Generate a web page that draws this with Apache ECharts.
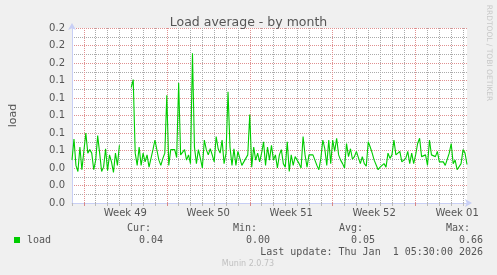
<!DOCTYPE html>
<html>
<head>
<meta charset="utf-8">
<script src="https://cdn.jsdelivr.net/npm/echarts@6.0.0/dist/echarts.min.js"></script>
<style>
html,body{margin:0;padding:0;background:#f0f0f0;}
#chart{width:497px;height:275px;}
</style>
</head>
<body>
<div id="chart"></div>
<script>
const slotStartUTC = Date.UTC(2025, 10, 30, 0, 0);
const slotHours = 4;
const loadValues = [
  0.049,0.073,0.043,0.036,0.064,0.038,0.040,0.080,0.057,0.061,
  0.057,0.038,0.049,0.077,0.057,0.036,0.041,0.062,0.037,0.055,
  0.047,0.035,0.057,0.043,0.066,null,null,null,null,null,
  0.132,0.141,0.057,0.043,0.064,0.043,0.057,0.047,0.055,0.041,
  0.051,0.061,0.072,0.074,0.049,0.043,0.051,0.057,0.123,0.043,
  0.061,0.059,0.061,0.052,0.137,0.055,0.053,0.061,0.049,0.055,
  0.045,0.171,0.064,0.045,0.061,0.051,0.040,0.072,0.061,0.055,
  0.062,0.055,0.047,0.076,0.062,0.057,0.072,0.045,0.057,0.127,
  0.064,0.043,0.062,0.043,0.059,0.051,0.043,0.047,0.049,0.055,
  0.101,0.041,0.064,0.049,0.057,0.047,0.057,0.070,0.043,0.064,
  0.049,0.066,0.049,0.055,0.040,0.055,0.061,0.045,0.041,0.070,
  0.036,0.055,0.043,0.053,0.055,0.045,0.040,0.076,0.055,0.041,
  0.055,0.055,0.055,0.055,0.043,0.038,0.051,0.072,0.062,0.043,
  0.072,0.045,0.072,0.059,0.074,0.055,0.049,0.045,0.040,0.068,
  0.053,0.062,0.050,0.053,0.059,0.057,0.045,0.053,0.045,0.042,
  0.070,0.064,0.057,0.049,0.047,0.038,0.041,0.043,0.045,0.041,
  0.057,0.051,0.055,0.072,0.055,0.053,0.059,0.047,0.049,0.051,
  0.059,0.045,0.057,0.045,0.055,0.068,0.074,0.053,0.055,0.055,
  0.043,0.072,0.055,0.057,0.053,0.059,0.047,0.047,0.047,0.043,
  0.045,0.057,0.068,0.045,0.049,0.038,0.040,0.045,0.061,0.057,
  0.044
];
const weekStarts = ['2025-12-01 00:00','2025-12-08 00:00','2025-12-15 00:00','2025-12-22 00:00','2025-12-29 00:00'];
const weekLabelSlots = ['2025-12-04 12:00','2025-12-11 12:00','2025-12-18 12:00','2025-12-25 12:00','2026-01-01 12:00'];
const weekLabels = ['Week 49','Week 50','Week 51','Week 52','Week 01'];
const yMin = 0, yMax = 0.2, yMajorStep = 0.02, yMinorStep = 0.01;
const statLabels = ['Cur:','Min:','Avg:','Max:'];
const statValues = ['0.04','0.00','0.05','0.66'];
const seriesName = 'load';
const lastUpdate = 'Last update: Thu Jan  1 05:30:00 2026';
const footer = 'Munin 2.0.73';
const watermark = 'RRDTOOL / TOBI OETIKER';
const titleText = 'Load average - by month';

function fmt(ms){
  const d = new Date(ms);
  const p = n => String(n).padStart(2,'0');
  return d.getUTCFullYear()+'-'+p(d.getUTCMonth()+1)+'-'+p(d.getUTCDate())+' '+p(d.getUTCHours())+':'+p(d.getUTCMinutes());
}
const categories = loadValues.map((_, i) => fmt(slotStartUTC + i*slotHours*3600e3));
const isDayStart = (v) => String(v).endsWith('00:00');
const isWeekStart = (v) => weekStarts.indexOf(String(v)) >= 0;

const MONO = '"DejaVu Sans Mono", monospace';
const SANS = '"DejaVu Sans", sans-serif';
const axisCol = '#c8cff5';
const majorCol = '#e09090';
const minorCol = '#ababab';

const chart = echarts.init(document.getElementById('chart'), null, {renderer:'canvas'});

const graphics = [];
const statRight = [151, 257, 363, 470];
const valRight = [163, 270, 375, 483];
statLabels.forEach((s, k) => {
  graphics.push({type:'text', x: statRight[k], y: 228, style:{text:s, fill:'#555', font:'10px '+MONO, textAlign:'right', textVerticalAlign:'middle'}});
  graphics.push({type:'text', x: valRight[k], y: 240, style:{text:statValues[k], fill:'#555', font:'10px '+MONO, textAlign:'right', textVerticalAlign:'middle'}});
});
graphics.push({type:'rect', shape:{x:14, y:237, width:6, height:6}, style:{fill:'#00cc00'}});
graphics.push({type:'text', x: 27, y: 240, style:{text:seriesName, fill:'#555', font:'10px '+MONO, textAlign:'left', textVerticalAlign:'middle'}});
graphics.push({type:'text', x: 483, y: 252, style:{text:lastUpdate, fill:'#555', font:'10px '+MONO, textAlign:'right', textVerticalAlign:'middle'}});
graphics.push({type:'text', x: 248, y: 264, style:{text:footer, fill:'#c0c0c0', font:'8px '+SANS, textAlign:'center', textVerticalAlign:'middle'}});
graphics.push({type:'text', x: 489, y: 53, rotation: -Math.PI/2, style:{text:watermark, fill:'#c8c8c8', font:'7.5px '+SANS, textAlign:'center', textVerticalAlign:'middle'}});

chart.setOption({
  animation: false,
  backgroundColor: '#f0f0f0',
  title: {
    text: titleText, left: 'center', top: 11,
    textStyle: {fontFamily: SANS, fontSize: 12.5, fontWeight: 'normal', color: '#555'}
  },
  grid: {left: 67, right: 30, top: 28, bottom: 72, show: true, backgroundColor: '#ffffff', borderWidth: 0},
  xAxis: [
    {
      type: 'category', data: categories, boundaryGap: false,
      axisLine: {show: false},
      axisTick: {show: true, length: 3, interval: (i, v) => isDayStart(v) && !isWeekStart(v), lineStyle: {color: '#bbbbbb'}},
      axisLabel: {show: false},
      splitLine: {show: true, interval: (i, v) => isDayStart(v) && !isWeekStart(v), lineStyle: {color: minorCol, type: [1, 1]}}
    },
    {
      type: 'category', data: categories, boundaryGap: false, position: 'bottom',
      axisLine: {show: true, lineStyle: {color: axisCol}, symbol: ['none','arrow'], symbolSize: [6, 7], symbolOffset: [0, 5]},
      axisTick: {show: true, length: 3, interval: (i, v) => isWeekStart(v), lineStyle: {color: '#d88888'}},
      axisLabel: {
        show: true, interval: (i, v) => weekLabelSlots.indexOf(String(v)) >= 0,
        formatter: (v) => weekLabels[weekLabelSlots.indexOf(String(v))],
        color: '#555', fontFamily: SANS, fontSize: 10, margin: 5
      },
      splitLine: {show: true, interval: (i, v) => isWeekStart(v), lineStyle: {color: majorCol, type: [1, 1]}}
    }
  ],
  yAxis: [
    {
      type: 'value', min: yMin, max: yMax, interval: yMinorStep,
      axisLine: {show: false}, axisTick: {show: false}, axisLabel: {show: false},
      splitLine: {show: true, lineStyle: {color: minorCol, type: [1, 1]}}
    },
    {
      type: 'value', min: yMin, max: yMax, interval: yMajorStep, position: 'left',
      name: seriesName, nameLocation: 'middle', nameGap: 53, nameRotate: 90,
      nameTextStyle: {color: '#555', fontFamily: SANS, fontSize: 11},
      axisLine: {show: true, lineStyle: {color: axisCol}, symbol: ['none','arrow'], symbolSize: [6, 7], symbolOffset: [0, 5]},
      axisTick: {show: false},
      axisLabel: {color: '#555', fontFamily: SANS, fontSize: 10, margin: 7, formatter: (v) => v.toFixed(1)},
      splitLine: {show: true, lineStyle: {color: majorCol, type: [1, 1]}}
    }
  ],
  series: [{
    name: seriesName, type: 'line', xAxisIndex: 0, yAxisIndex: 1, data: loadValues,
    showSymbol: false, connectNulls: false,
    lineStyle: {color: '#00cc00', width: 1.1},
    itemStyle: {color: '#00cc00'}
  }],
  graphic: graphics
});
</script>
</body>
</html>
